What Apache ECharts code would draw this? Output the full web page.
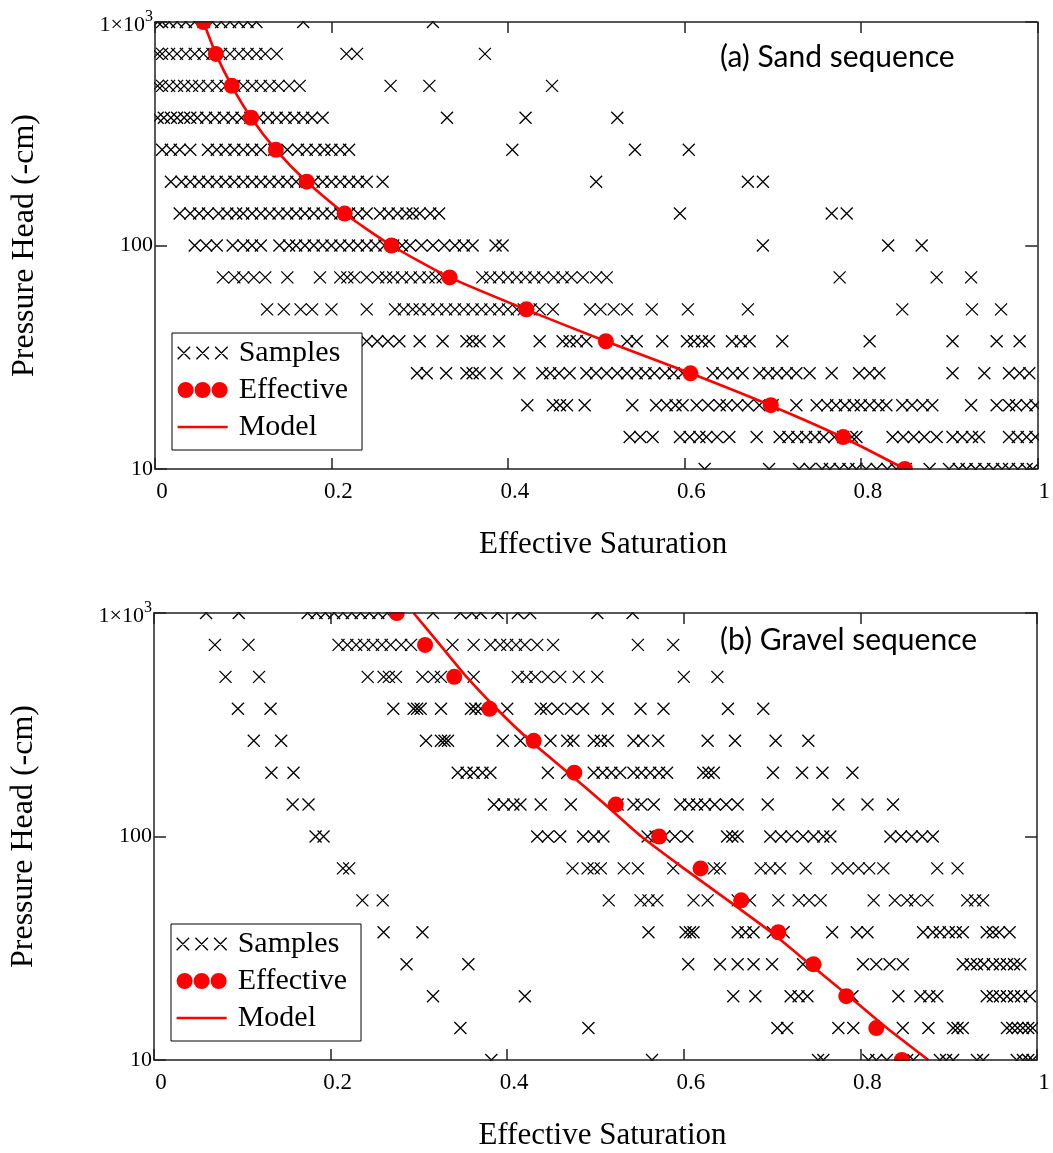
<!DOCTYPE html>
<html>
<head>
<meta charset="utf-8">
<script src="https://cdn.jsdelivr.net/npm/echarts@6.0.0/dist/echarts.min.js"></script>
<style>
  html, body { margin: 0; padding: 0; background: #fff; }
  #chart { width: 1053px; height: 1153px; }
</style>
</head>
<body>
<div id="chart"></div>
<script>
// pressure levels (-cm), one row of samples per level, bottom to top
const heads = [10, 13.9, 19.3, 26.8, 37.3, 51.8, 72, 100, 139, 193, 268, 373, 518, 720, 1000];

// (a) sand sequence: effective saturation of each sample, per level
const sandSamples = [
  [0.623, 0.696, 0.73, 0.742, 0.756, 0.765, 0.776, 0.786, 0.795, 0.806, 0.818, 0.83, 0.84, 0.851, 0.878, 0.9, 0.911, 0.92, 0.93, 0.94, 0.95, 0.96, 0.968, 0.978, 0.988, 0.995],
  [0.538, 0.55, 0.564, 0.595, 0.606, 0.617, 0.625, 0.637, 0.651, 0.682, 0.708, 0.718, 0.728, 0.738, 0.748, 0.758, 0.77, 0.78, 0.79, 0.795, 0.836, 0.848, 0.86, 0.872, 0.886, 0.904, 0.915, 0.926, 0.934, 0.968, 0.978, 0.988, 0.998],
  [0.422, 0.451, 0.459, 0.467, 0.487, 0.541, 0.568, 0.58, 0.59, 0.598, 0.614, 0.627, 0.64, 0.648, 0.66, 0.672, 0.685, 0.7, 0.727, 0.75, 0.762, 0.772, 0.782, 0.792, 0.8, 0.81, 0.82, 0.829, 0.847, 0.858, 0.87, 0.881, 0.925, 0.954, 0.968, 0.976, 0.988, 0.998],
  [0.297, 0.308, 0.33, 0.353, 0.36, 0.368, 0.387, 0.413, 0.439, 0.448, 0.458, 0.47, 0.489, 0.5, 0.512, 0.524, 0.535, 0.546, 0.556, 0.566, 0.578, 0.588, 0.598, 0.632, 0.643, 0.655, 0.666, 0.685, 0.695, 0.705, 0.716, 0.727, 0.742, 0.767, 0.798, 0.81, 0.821, 0.904, 0.94, 0.968, 0.98, 0.991],
  [0.24, 0.252, 0.264, 0.277, 0.3, 0.326, 0.353, 0.36, 0.368, 0.39, 0.436, 0.462, 0.47, 0.478, 0.489, 0.535, 0.546, 0.575, 0.603, 0.611, 0.62, 0.628, 0.654, 0.664, 0.674, 0.711, 0.81, 0.904, 0.954, 0.98],
  [0.127, 0.146, 0.165, 0.178, 0.2, 0.24, 0.272, 0.282, 0.292, 0.3, 0.31, 0.32, 0.33, 0.34, 0.35, 0.36, 0.37, 0.38, 0.39, 0.4, 0.41, 0.418, 0.426, 0.436, 0.451, 0.493, 0.505, 0.52, 0.535, 0.563, 0.604, 0.672, 0.847, 0.926, 0.959],
  [0.077, 0.09, 0.1, 0.112, 0.125, 0.15, 0.187, 0.21, 0.218, 0.226, 0.24, 0.253, 0.262, 0.27, 0.28, 0.29, 0.3, 0.31, 0.318, 0.326, 0.371, 0.38, 0.39, 0.4, 0.41, 0.42, 0.43, 0.44, 0.452, 0.462, 0.472, 0.485, 0.5, 0.512, 0.776, 0.886, 0.925],
  [0.045, 0.058, 0.07, 0.088, 0.1, 0.11, 0.12, 0.141, 0.152, 0.16, 0.17, 0.18, 0.19, 0.2, 0.21, 0.22, 0.23, 0.24, 0.25, 0.26, 0.27, 0.28, 0.289, 0.302, 0.315, 0.328, 0.34, 0.35, 0.36, 0.386, 0.394, 0.689, 0.831, 0.869],
  [0.028, 0.04, 0.05, 0.06, 0.072, 0.082, 0.092, 0.1, 0.11, 0.12, 0.13, 0.14, 0.15, 0.16, 0.17, 0.18, 0.19, 0.2, 0.21, 0.22, 0.23, 0.24, 0.255, 0.265, 0.275, 0.285, 0.292, 0.3, 0.312, 0.322, 0.595, 0.767, 0.784],
  [0.018, 0.03, 0.04, 0.05, 0.06, 0.07, 0.08, 0.09, 0.1, 0.11, 0.12, 0.13, 0.14, 0.15, 0.16, 0.17, 0.18, 0.19, 0.2, 0.21, 0.22, 0.23, 0.24, 0.258, 0.5, 0.672, 0.689],
  [0.008, 0.018, 0.028, 0.04, 0.06, 0.07, 0.08, 0.09, 0.1, 0.11, 0.12, 0.135, 0.15, 0.162, 0.172, 0.182, 0.192, 0.2, 0.21, 0.22, 0.405, 0.544, 0.605],
  [0.003, 0.01, 0.018, 0.025, 0.033, 0.04, 0.048, 0.058, 0.068, 0.078, 0.088, 0.098, 0.108, 0.118, 0.128, 0.138, 0.148, 0.158, 0.168, 0.178, 0.19, 0.331, 0.42, 0.524],
  [0.003, 0.008, 0.016, 0.025, 0.033, 0.042, 0.05, 0.06, 0.07, 0.08, 0.09, 0.1, 0.11, 0.12, 0.13, 0.14, 0.152, 0.164, 0.267, 0.311, 0.45],
  [0.003, 0.008, 0.016, 0.025, 0.035, 0.045, 0.055, 0.065, 0.075, 0.085, 0.095, 0.105, 0.115, 0.125, 0.138, 0.217, 0.229, 0.374],
  [0.003, 0.008, 0.016, 0.025, 0.035, 0.045, 0.055, 0.065, 0.075, 0.085, 0.095, 0.105, 0.115, 0.168, 0.315]
];
const sandEffective = [0.850, 0.780, 0.698, 0.607, 0.511, 0.421, 0.334, 0.268, 0.215, 0.172, 0.137, 0.109, 0.087, 0.069, 0.055];
const sandModel = [0.850, 0.779, 0.697, 0.607, 0.511, 0.420, 0.334, 0.268, 0.215, 0.172, 0.137, 0.109, 0.087, 0.069, 0.055];

// (b) gravel sequence
const gravelSamples = [
  [0.382, 0.564, 0.752, 0.758, 0.809, 0.818, 0.83, 0.853, 0.86, 0.89, 0.897, 0.905, 0.932, 0.939, 0.977, 0.984, 0.99, 0.995],
  [0.347, 0.492, 0.706, 0.717, 0.775, 0.792, 0.848, 0.877, 0.905, 0.91, 0.916, 0.966, 0.972, 0.978, 0.984, 0.99, 0.995],
  [0.316, 0.42, 0.656, 0.681, 0.721, 0.73, 0.74, 0.791, 0.843, 0.868, 0.878, 0.887, 0.943, 0.95, 0.958, 0.966, 0.974, 0.982, 0.992],
  [0.286, 0.356, 0.605, 0.641, 0.661, 0.679, 0.7, 0.735, 0.803, 0.818, 0.833, 0.848, 0.916, 0.925, 0.932, 0.94, 0.95, 0.958, 0.966, 0.974, 0.981],
  [0.26, 0.304, 0.56, 0.602, 0.607, 0.611, 0.661, 0.67, 0.679, 0.701, 0.713, 0.768, 0.796, 0.808, 0.871, 0.882, 0.89, 0.9, 0.908, 0.916, 0.943, 0.95, 0.957, 0.969],
  [0.236, 0.259, 0.515, 0.551, 0.56, 0.57, 0.611, 0.627, 0.661, 0.675, 0.707, 0.73, 0.742, 0.755, 0.815, 0.839, 0.853, 0.862, 0.876, 0.921, 0.93, 0.939],
  [0.214, 0.221, 0.474, 0.491, 0.498, 0.506, 0.532, 0.548, 0.588, 0.634, 0.641, 0.687, 0.698, 0.709, 0.738, 0.774, 0.786, 0.798, 0.81, 0.826, 0.887, 0.91],
  [0.183, 0.192, 0.434, 0.446, 0.46, 0.486, 0.498, 0.509, 0.559, 0.568, 0.578, 0.59, 0.604, 0.649, 0.655, 0.661, 0.698, 0.71, 0.722, 0.735, 0.747, 0.758, 0.766, 0.834, 0.846, 0.858, 0.87, 0.882],
  [0.157, 0.175, 0.385, 0.396, 0.407, 0.415, 0.438, 0.472, 0.525, 0.543, 0.552, 0.566, 0.596, 0.606, 0.615, 0.624, 0.635, 0.648, 0.661, 0.695, 0.775, 0.808, 0.837],
  [0.133, 0.158, 0.344, 0.354, 0.362, 0.372, 0.381, 0.446, 0.468, 0.498, 0.508, 0.518, 0.528, 0.543, 0.552, 0.562, 0.572, 0.581, 0.622, 0.628, 0.634, 0.701, 0.734, 0.757, 0.791],
  [0.113, 0.144, 0.308, 0.325, 0.329, 0.333, 0.395, 0.415, 0.449, 0.468, 0.475, 0.498, 0.506, 0.514, 0.543, 0.554, 0.571, 0.627, 0.658, 0.704, 0.741],
  [0.095, 0.132, 0.271, 0.294, 0.298, 0.302, 0.325, 0.359, 0.364, 0.37, 0.4, 0.438, 0.444, 0.457, 0.472, 0.486, 0.514, 0.551, 0.577, 0.65, 0.69],
  [0.081, 0.119, 0.242, 0.26, 0.266, 0.274, 0.304, 0.317, 0.325, 0.362, 0.412, 0.422, 0.432, 0.446, 0.46, 0.481, 0.502, 0.6, 0.638],
  [0.069, 0.107, 0.209, 0.219, 0.229, 0.238, 0.248, 0.258, 0.268, 0.28, 0.291, 0.338, 0.362, 0.381, 0.392, 0.4, 0.41, 0.42, 0.434, 0.452, 0.548, 0.588],
  [0.059, 0.096, 0.174, 0.184, 0.194, 0.204, 0.214, 0.224, 0.234, 0.244, 0.254, 0.264, 0.316, 0.347, 0.36, 0.37, 0.389, 0.412, 0.426, 0.502, 0.542]
];
const gravelEffective = [0.847, 0.818, 0.784, 0.747, 0.707, 0.665, 0.619, 0.572, 0.523, 0.476, 0.430, 0.380, 0.340, 0.307, 0.275];
const gravelModel = [0.877, 0.830, 0.787, 0.743, 0.699, 0.650, 0.600, 0.552, 0.511, 0.469, 0.426, 0.388, 0.354, 0.324, 0.294];

const serif = 'Liberation Serif';
const red = '#ff0000';
const xMark = 'path://M0,0L10,10M10,0L0,10';
const xMarks3 = 'path://M0,0L12,12M12,0L0,12M18,0L30,12M30,0L18,12M36,0L48,12M48,0L36,12';
const dots3 = 'path://M0,8a8,8 0 1,0 16,0a8,8 0 1,0 -16,0M17,8a8,8 0 1,0 16,0a8,8 0 1,0 -16,0M34,8a8,8 0 1,0 16,0a8,8 0 1,0 -16,0';
const bar = 'path://M0,0L50,0L50,2.6L0,2.6Z';

const samplePoints = rows => rows.flatMap((row, i) => row.map(s => [s, heads[i]]));
const curvePoints = vals => vals.map((s, i) => [s, heads[i]]);

const axisLine = { onZero: false, lineStyle: { color: '#222', width: 1.5 } };
const axisTick = { inside: true, length: 11, lineStyle: { color: '#222', width: 1.5 } };

function xAxes (gridIndex) {
  return [{
    gridIndex, type: 'value', min: 0, max: 1, interval: 0.2, z: 10,
    axisLine, axisTick,
    axisLabel: { margin: 11, fontFamily: serif, fontSize: 23, color: '#000', padding: [0, 0, 0, 14] },
    splitLine: { show: false },
    name: 'Effective Saturation', nameLocation: 'middle', nameGap: 60,
    nameTextStyle: { fontFamily: serif, fontSize: 31, color: '#000', padding: [0, 0, 0, 14] }
  }, {
    gridIndex, type: 'value', position: 'top', min: 0, max: 1, interval: 0.2, z: 10,
    axisLine, axisTick,
    axisLabel: { show: false },
    splitLine: { show: false }
  }];
}

function yAxes (gridIndex) {
  return [{
    gridIndex, type: 'log', logBase: 10, min: 10, max: 1000, z: 10,
    axisLine, axisTick: Object.assign({}, axisTick, { length: 12 }),
    axisLabel: {
      margin: 2,
      formatter: v => v >= 1000 ? '{m|1×10}{s|3}' : '{n|' + v + '}',
      rich: {
        n: { fontFamily: serif, fontSize: 22, color: '#000', lineHeight: 26 },
        m: { fontFamily: serif, fontSize: 22, color: '#000', lineHeight: 26, padding: [6, 0, 0, 0] },
        s: { fontFamily: serif, fontSize: 16, color: '#000', lineHeight: 15, verticalAlign: 'top' }
      }
    },
    splitLine: { show: false },
    minorTick: { show: false },
    name: 'Pressure Head (-cm)', nameLocation: 'middle', nameGap: 114,
    nameTextStyle: { fontFamily: serif, fontSize: 32, color: '#000' }
  }, {
    gridIndex, type: 'log', logBase: 10, min: 10, max: 1000, position: 'right', z: 10,
    axisLine, axisTick: Object.assign({}, axisTick, { length: 12 }),
    axisLabel: { show: false },
    splitLine: { show: false }
  }];
}

function legendAt (left, top) {
  return {
    left, top, orient: 'vertical', z: 20,
    selectedMode: false,
    backgroundColor: '#fff', borderColor: '#000', borderWidth: 1,
    padding: [5, 14, 8, 5], itemGap: 7, itemWidth: 50, itemHeight: 16,
    textStyle: { fontFamily: serif, fontSize: 30, color: '#000', lineHeight: 30, padding: [0, 0, 0, 6] },
    data: [
      { name: 'Samples', icon: xMarks3, itemStyle: { color: '#000', borderColor: '#000', borderWidth: 1.3, opacity: 1 } },
      { name: 'Effective', icon: dots3, itemStyle: { color: red, borderWidth: 0, opacity: 1 } },
      { name: 'Model', icon: bar, itemStyle: { color: red, borderWidth: 0, opacity: 1 } }
    ]
  };
}

function panelSeries (axisIndex, samples, effective, model) {
  return [{
    name: 'Samples', type: 'scatter', xAxisIndex: axisIndex, yAxisIndex: axisIndex,
    data: samplePoints(samples), symbol: xMark, symbolSize: 12,
    itemStyle: { color: '#000', borderColor: '#000', borderWidth: 1.3, opacity: 1 }, z: 2
  }, {
    name: 'Model', type: 'line', xAxisIndex: axisIndex, yAxisIndex: axisIndex,
    data: curvePoints(model), symbol: 'none', smooth: 0.2,
    lineStyle: { color: red, width: 2.6 }, itemStyle: { color: red }, z: 3
  }, {
    name: 'Effective', type: 'scatter', xAxisIndex: axisIndex, yAxisIndex: axisIndex,
    data: curvePoints(effective), symbol: 'circle', symbolSize: 16,
    itemStyle: { color: red, opacity: 1 }, z: 4
  }];
}

// white frame around the plots so markers on the edges are cut like the original
const mask = (x, y, width, height) => ({
  type: 'rect', silent: true, z: 5,
  shape: { x, y, width, height }, style: { fill: '#fff' }
});

const chart = echarts.init(document.getElementById('chart'));
chart.setOption({
  animation: false,
  backgroundColor: '#fff',
  grid: [
    { left: 155, top: 22, width: 883, height: 447 },
    { left: 153, top: 613, width: 884, height: 447 }
  ],
  xAxis: xAxes(0).concat(xAxes(1)),
  yAxis: yAxes(0).concat(yAxes(1)),
  legend: [legendAt(172, 333), legendAt(171, 924)],
  graphic: [
    mask(0, 0, 1053, 21),
    mask(0, 470, 1053, 142),
    mask(0, 1061, 1053, 92),
    mask(0, 0, 154, 470),
    mask(0, 470, 152, 683),
    mask(1039, 0, 14, 470),
    mask(1038, 470, 15, 683),
    { type: 'text', x: 720, y: 57, z: 20, style: { text: '(a) Sand sequence', fontFamily: 'Lato', fontSize: 30, fill: '#000', verticalAlign: 'middle' } },
    { type: 'text', x: 720, y: 640, z: 20, style: { text: '(b) Gravel sequence', fontFamily: 'Lato', fontSize: 30, fill: '#000', verticalAlign: 'middle' } }
  ],
  series: panelSeries(0, sandSamples, sandEffective, sandModel)
    .concat(panelSeries(2, gravelSamples, gravelEffective, gravelModel))
});
</script>
</body>
</html>
